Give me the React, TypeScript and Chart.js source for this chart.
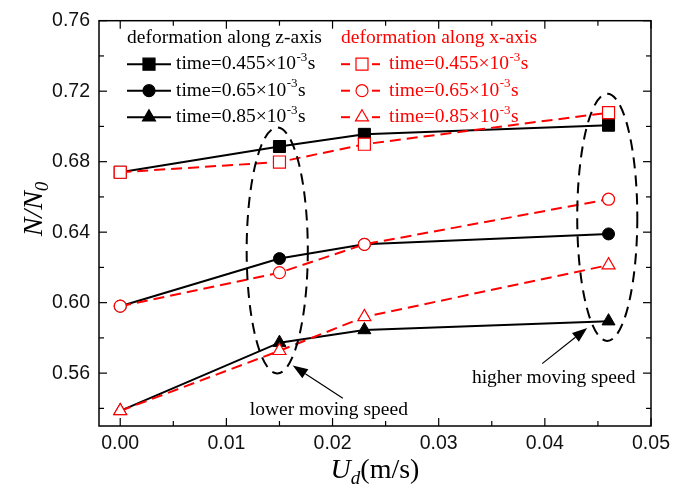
import React, { useEffect, useRef } from 'react';
import { Chart, registerables } from 'chart.js';

Chart.register(...registerables);

// ---- data ----
const speeds = [0, 0.015, 0.023, 0.046];
const zT1 = [0.674, 0.6886, 0.6955, 0.7007];
const zT2 = [0.598, 0.625, 0.6331, 0.639];
const zT3 = [0.5386, 0.5773, 0.5845, 0.5895];
const xT1 = [0.674, 0.6798, 0.6899, 0.7078];
const xT2 = [0.598, 0.617, 0.6331, 0.6587];
const xT3 = [0.5386, 0.5727, 0.5919, 0.6213];
const timeLabels = ['0.455', '0.65', '0.85'];
const zTitle = 'deformation along z-axis';
const xTitle = 'deformation along x-axis';

const xTicks = [0, 0.01, 0.02, 0.03, 0.04, 0.05];
const xMinorTicks = [0.005, 0.015, 0.025, 0.035, 0.045];
const yTicks = [0.56, 0.6, 0.64, 0.68, 0.72, 0.76];
const yMinorTicks = [0.54, 0.58, 0.62, 0.66, 0.7, 0.74];

// annotations (data units)
const ellipseLower = [0.01479, 0.6296, 0.00288, 0.0698];
const ellipseHigher = [0.04588, 0.6484, 0.00283, 0.0701];
const arrowLower = [0.02097, 0.5458, 0.01625, 0.5643];
const arrowHigher = [0.03975, 0.5654, 0.04399, 0.5856];
const textLower = ['lower moving speed', 0.01965, 0.539];
const textHigher = ['higher moving speed', 0.04083, 0.5575];

const RED = '#ff0000';
const SERIF = '"Liberation Serif", "Times New Roman", serif';
const SANS = '"Liberation Sans", Arial, sans-serif';

function drawMarker(ctx: CanvasRenderingContext2D, style: string, x: number, y: number, filled: boolean, color: string) {
  ctx.save();
  ctx.setLineDash([]);
  ctx.beginPath();
  if (style === 'rect') {
    const s = 6;
    ctx.rect(x - s, y - s, 2 * s, 2 * s);
  } else if (style === 'circle') {
    ctx.arc(x, y, 6, 0, Math.PI * 2);
  } else {
    const r = 7.5;
    ctx.moveTo(x, y - r);
    ctx.lineTo(x + r * Math.sin((2 * Math.PI) / 3), y - r * Math.cos((2 * Math.PI) / 3));
    ctx.lineTo(x + r * Math.sin((4 * Math.PI) / 3), y - r * Math.cos((4 * Math.PI) / 3));
    ctx.closePath();
  }
  ctx.fillStyle = filled ? color : '#fff';
  ctx.fill();
  ctx.lineWidth = 1.2;
  ctx.strokeStyle = color;
  ctx.stroke();
  ctx.restore();
}

function drawTimeText(ctx: CanvasRenderingContext2D, x: number, y: number, t: string, color: string) {
  ctx.fillStyle = color;
  ctx.textBaseline = 'middle';
  ctx.textAlign = 'left';
  ctx.font = `19.5px ${SERIF}`;
  const main = `time=${t}\u00d710`;
  ctx.fillText(main, x, y);
  const w = ctx.measureText(main).width;
  ctx.font = `13px ${SERIF}`;
  ctx.fillText('-3', x + w + 0.5, y - 7);
  const w2 = ctx.measureText('-3').width;
  ctx.font = `19.5px ${SERIF}`;
  ctx.fillText('s', x + w + w2 + 1, y);
}

function drawArrow(ctx: CanvasRenderingContext2D, x1: number, y1: number, x2: number, y2: number) {
  const ang = Math.atan2(y2 - y1, x2 - x1);
  const hl = 15, hw = 5.5;
  const bx = x2 - hl * Math.cos(ang), by = y2 - hl * Math.sin(ang);
  ctx.setLineDash([]);
  ctx.strokeStyle = '#000';
  ctx.lineWidth = 1.2;
  ctx.beginPath();
  ctx.moveTo(x1, y1);
  ctx.lineTo(bx, by);
  ctx.stroke();
  ctx.fillStyle = '#000';
  ctx.beginPath();
  ctx.moveTo(x2, y2);
  ctx.lineTo(bx + hw * Math.sin(ang), by - hw * Math.cos(ang));
  ctx.lineTo(bx - hw * Math.sin(ang), by + hw * Math.cos(ang));
  ctx.closePath();
  ctx.fill();
}

const decorPlugin = {
  id: 'decor',
  afterDraw(chart: any) {
    const { ctx, chartArea: a, scales } = chart;
    const xs = scales.x, ys = scales.y;
    const px = (v: number) => xs.getPixelForValue(v);
    const py = (v: number) => ys.getPixelForValue(v);
    ctx.save();
    ctx.setLineDash([]);
    ctx.strokeStyle = '#000';
    ctx.lineWidth = 1.5;
    ctx.strokeRect(a.left, a.top, a.right - a.left, a.bottom - a.top);
    ctx.lineWidth = 1.2;
    const seg = (x1: number, y1: number, x2: number, y2: number) => {
      ctx.beginPath(); ctx.moveTo(x1, y1); ctx.lineTo(x2, y2); ctx.stroke();
    };
    xTicks.forEach(v => { const x = px(v); seg(x, a.bottom, x, a.bottom - 8); seg(x, a.top, x, a.top + 8); });
    xMinorTicks.forEach(v => { const x = px(v); seg(x, a.bottom, x, a.bottom - 5); seg(x, a.top, x, a.top + 5); });
    yTicks.forEach(v => { const y = py(v); seg(a.left, y, a.left + 8, y); seg(a.right, y, a.right - 8, y); });
    yMinorTicks.forEach(v => { const y = py(v); seg(a.left, y, a.left + 5, y); seg(a.right, y, a.right - 5, y); });

    // ellipses
    ctx.setLineDash([11, 7]);
    ctx.lineWidth = 2;
    [ellipseLower, ellipseHigher].forEach(e => {
      const cx = px(e[0]), cy = py(e[1]);
      const rx = px(e[0] + e[2]) - cx, ry = cy - py(e[1] + e[3]);
      ctx.beginPath();
      ctx.ellipse(cx, cy, rx, ry, 0, 0, Math.PI * 2);
      ctx.stroke();
    });

    // arrows
    [arrowLower, arrowHigher].forEach(r => drawArrow(ctx, px(r[0]), py(r[1]), px(r[2]), py(r[3])));

    // annotation text
    ctx.fillStyle = '#000';
    ctx.font = `19.5px ${SERIF}`;
    ctx.textAlign = 'center';
    ctx.textBaseline = 'middle';
    [textLower, textHigher].forEach(t => ctx.fillText(t[0] as string, px(t[1] as number), py(t[2] as number)));

    // legend
    const styles = ['rect', 'circle', 'triangle'];
    const lx = a.left + 28, rxl = a.left + 242;
    const rowsY = [a.top + 43.5, a.top + 70, a.top + 96.5];
    ctx.textAlign = 'left';
    ctx.font = `19.5px ${SERIF}`;
    ctx.fillStyle = '#000';
    ctx.fillText(zTitle, lx, a.top + 17);
    ctx.fillStyle = RED;
    ctx.fillText(xTitle, rxl, a.top + 17);
    styles.forEach((s, i) => {
      const y = rowsY[i];
      ctx.setLineDash([]);
      ctx.strokeStyle = '#000';
      ctx.lineWidth = 2;
      seg(lx, y, lx + 44, y);
      drawMarker(ctx, s, lx + 22, y, true, '#000');
      drawTimeText(ctx, lx + 49, y, timeLabels[i], '#000');
      ctx.strokeStyle = RED;
      ctx.lineWidth = 2;
      seg(rxl, y, rxl + 9, y);
      seg(rxl + 31, y, rxl + 39, y);
      drawMarker(ctx, s, rxl + 21, y, false, RED);
      drawTimeText(ctx, rxl + 48, y, timeLabels[i], RED);
    });

    // axis titles
    ctx.fillStyle = '#000';
    ctx.textBaseline = 'alphabetic';
    ctx.textAlign = 'left';
    // x title
    ctx.font = `italic 28px ${SERIF}`;
    const wU = ctx.measureText('U').width;
    ctx.font = `italic 19px ${SERIF}`;
    const wd = ctx.measureText('d').width;
    ctx.font = `28px ${SERIF}`;
    const wr = ctx.measureText('(m/s)').width;
    const tot = wU + wd + wr;
    const x0 = (a.left + a.right) / 2 - tot / 2;
    const by = 478;
    ctx.font = `italic 28px ${SERIF}`;
    ctx.fillText('U', x0, by);
    ctx.font = `italic 19px ${SERIF}`;
    ctx.fillText('d', x0 + wU, by + 6);
    ctx.font = `28px ${SERIF}`;
    ctx.fillText('(m/s)', x0 + wU + wd, by);
    // y title
    ctx.save();
    ctx.translate(42, 209);
    ctx.rotate(-Math.PI / 2);
    ctx.font = `italic 28px ${SERIF}`;
    const wN = ctx.measureText('N/N').width;
    ctx.font = `italic 19px ${SERIF}`;
    const w0 = ctx.measureText('0').width;
    const sx = -(wN + w0) / 2;
    ctx.font = `italic 28px ${SERIF}`;
    ctx.fillText('N/N', sx, 0);
    ctx.font = `italic 19px ${SERIF}`;
    ctx.fillText('0', sx + wN, 6);
    ctx.restore();

    ctx.restore();
  },
};

export default function App() {
  const ref = useRef<HTMLCanvasElement | null>(null);
  useEffect(() => {
    if (!ref.current) return;
    const pts = (ys: number[]) => speeds.map((x, i) => ({ x, y: ys[i] }));
    const black = (data: number[], style: string) => ({
      data: pts(data),
      borderColor: '#000',
      borderWidth: 2,
      pointStyle: style,
      pointRadius: style === 'rect' ? 8.5 : style === 'circle' ? 6 : 7.5,
      pointBackgroundColor: '#000',
      pointBorderColor: '#000',
      pointBorderWidth: 1,
      order: 2,
    });
    const red = (data: number[], style: string) => ({
      data: pts(data),
      borderColor: RED,
      borderWidth: 2,
      borderDash: [11, 6],
      pointStyle: style,
      pointRadius: style === 'rect' ? 8.5 : style === 'circle' ? 6 : 7.5,
      pointBackgroundColor: '#fff',
      pointBorderColor: RED,
      pointBorderWidth: 1.2,
      order: 1,
    });
    const chart = new Chart(ref.current, {
      type: 'line',
      data: {
        datasets: [
          black(zT1, 'rect'), black(zT2, 'circle'), black(zT3, 'triangle'),
          red(xT1, 'rect'), red(xT2, 'circle'), red(xT3, 'triangle'),
        ] as any,
      },
      options: {
        responsive: false,
        animation: false,
        layout: { padding: { left: 0, right: 36, top: 16, bottom: 0 } },
        plugins: { legend: { display: false }, tooltip: { enabled: false } },
        elements: { line: { tension: 0 } },
        scales: {
          x: {
            type: 'linear',
            min: -0.002,
            max: 0.05,
            afterBuildTicks: (s: any) => { s.ticks = xTicks.map(v => ({ value: v })); },
            afterFit: (s: any) => { s.height = 70; },
            grid: { display: false, drawTicks: false },
            border: { display: false },
            ticks: {
              padding: 6,
              autoSkip: false,
              maxRotation: 0,
              color: '#111',
              font: { family: SANS, size: 19.5 },
              callback: (v: any) => Number(v).toFixed(2),
            },
          },
          y: {
            type: 'linear',
            min: 0.53,
            max: 0.76,
            afterBuildTicks: (s: any) => { s.ticks = yTicks.map(v => ({ value: v })); },
            afterFit: (s: any) => { s.width = 99; },
            grid: { display: false, drawTicks: false },
            border: { display: false },
            ticks: {
              padding: 9,
              autoSkip: false,
              color: '#111',
              font: { family: SANS, size: 19.5 },
              callback: (v: any) => Number(v).toFixed(2),
            },
          },
        },
      } as any,
      plugins: [decorPlugin],
    });
    return () => chart.destroy();
  }, []);
  return (
    <div style={{ position: 'fixed', left: 0, top: 0, width: 687, height: 496, background: '#fff' }}>
      <canvas ref={ref} width={687} height={496} style={{ display: 'block' }} />
    </div>
  );
}
